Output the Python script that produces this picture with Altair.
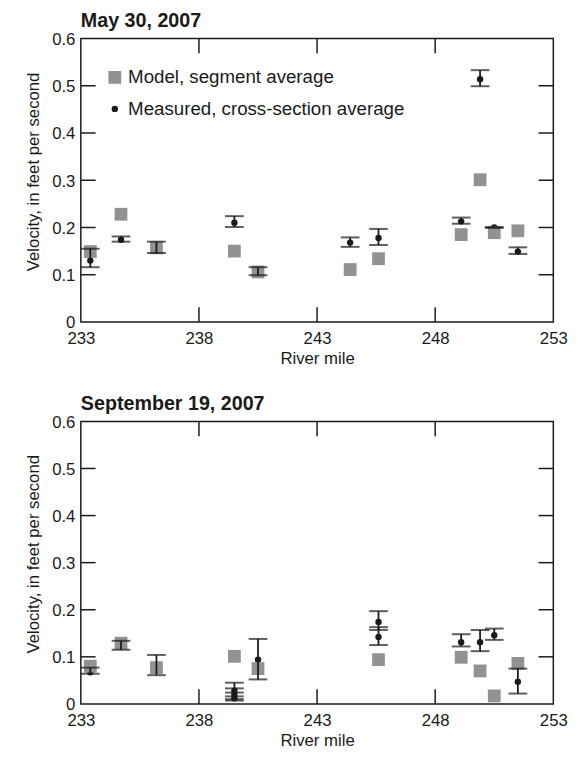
import altair as alt
import pandas as pd

FONT = "Liberation Sans, Arial, sans-serif"

# ---- May 30, 2007 ----
top_model_mile = [233.4, 234.7, 236.2, 239.5, 240.5, 244.4, 245.6, 249.1, 249.9, 250.5, 251.5]
top_model_vel = [0.149, 0.228, 0.157, 0.150, 0.106, 0.111, 0.134, 0.185, 0.301, 0.189, 0.193]
top_meas_mile = [233.4, 234.7, 236.2, 239.5, 240.5, 244.4, 245.6, 249.1, 249.9, 250.5, 251.5]
top_meas_vel = [0.130, 0.174, 0.158, 0.210, 0.107, 0.168, 0.178, 0.213, 0.514, 0.200, 0.149]
top_meas_low = [0.116, 0.170, 0.146, 0.201, 0.099, 0.159, 0.163, 0.208, 0.499, 0.199, 0.144]
top_meas_high = [0.155, 0.181, 0.170, 0.224, 0.116, 0.179, 0.197, 0.221, 0.533, 0.201, 0.158]

# ---- September 19, 2007 ----
bot_model_mile = [233.4, 234.7, 236.2, 239.5, 240.5, 245.6, 249.1, 249.9, 250.5, 251.5]
bot_model_vel = [0.080, 0.129, 0.077, 0.101, 0.075, 0.094, 0.099, 0.070, 0.017, 0.086]
bot_meas_mile = [233.4, 234.7, 236.2, 239.5, 239.5, 239.5, 240.5, 245.6, 245.6, 249.1, 249.9, 250.5, 251.5]
bot_meas_vel = [0.067, 0.125, 0.080, 0.028, 0.020, 0.012, 0.094, 0.174, 0.142, 0.131, 0.131, 0.146, 0.047]
bot_meas_low = [0.064, 0.115, 0.061, 0.016, 0.010, 0.007, 0.052, 0.157, 0.125, 0.122, 0.112, 0.136, 0.022]
bot_meas_high = [0.077, 0.134, 0.104, 0.045, 0.033, 0.024, 0.138, 0.197, 0.163, 0.148, 0.157, 0.160, 0.075]

x_ticks = [233, 238, 243, 248, 253]
y_ticks = [0, 0.1, 0.2, 0.3, 0.4, 0.5, 0.6]
x_inner = [238, 243, 248]
y_inner = [0.1, 0.2, 0.3, 0.4, 0.5]

series_names = ["Model, segment average", "Measured, cross-section average"]
GRAY = "#929292"
BLACK = "#1a1a1a"
W = 480

xscale = alt.Scale(domain=[233, 253], nice=False, zero=False)
yscale = alt.Scale(domain=[0, 0.6], nice=False)


def panel(title, mm, mv, sm, sv, lo, hi, H, legend):
    xax = alt.Axis(values=x_ticks, title="River mile", labelPadding=9, titlePadding=4,
                   labelFlush=False)
    yax = alt.Axis(values=y_ticks, title="Velocity, in feet per second",
                   labelExpr="datum.value == 0 ? '0' : format(datum.value, '.1f')",
                   labelPadding=6, titlePadding=9, labelOffset=1, titleY=H / 2 - 9)
    X = alt.X("mile:Q", scale=xscale, axis=xax)
    Y = alt.Y("v:Q", scale=yscale, axis=yax)

    mdf = pd.DataFrame({"mile": mm, "v": mv, "series": series_names[0]})
    sdf = pd.DataFrame({"mile": sm, "v": sv, "lo": lo, "hi": hi, "series": series_names[1]})
    ydf = pd.DataFrame({"v": y_inner})
    xdf = pd.DataFrame({"mile": x_inner})

    tick_len = 15
    left = alt.Chart(ydf).mark_rule(color=BLACK, strokeWidth=1.5).encode(
        y=Y, x=alt.value(0), x2=alt.value(tick_len))
    right = alt.Chart(ydf).mark_rule(color=BLACK, strokeWidth=1.5).encode(
        y=Y, x=alt.value(W - tick_len), x2=alt.value(W))
    topt = alt.Chart(xdf).mark_rule(color=BLACK, strokeWidth=1.5).encode(
        x=X, y=alt.value(0), y2=alt.value(tick_len))
    bott = alt.Chart(xdf).mark_rule(color=BLACK, strokeWidth=1.5).encode(
        x=X, y=alt.value(H - tick_len), y2=alt.value(H))

    if legend:
        leg = alt.Legend(title=None, orient="none", legendX=25, legendY=30,
                         labelFont=FONT, labelFontSize=19, labelColor=BLACK, labelLimit=0,
                         rowPadding=12, symbolStrokeWidth=0, labelOffset=4)
        color = alt.Color("series:N", scale=alt.Scale(domain=series_names, range=[GRAY, BLACK]), legend=leg)
        shape = alt.Shape("series:N", scale=alt.Scale(domain=series_names, range=["square", "circle"]), legend=leg)
        size = alt.Size("series:N", scale=alt.Scale(domain=series_names, range=[169, 42]), legend=leg)
        circles = alt.Chart(sdf).mark_point(filled=True, opacity=1).encode(
            x=X, y=Y, color=color, shape=shape, size=size)
        squares = alt.Chart(mdf).mark_point(filled=True, opacity=1).encode(
            x=X, y=Y, color=color, shape=shape, size=size)
    else:
        circles = alt.Chart(sdf).mark_point(filled=True, opacity=1, shape="circle",
                                            size=42, color=BLACK).encode(x=X, y=Y)
        squares = alt.Chart(mdf).mark_point(filled=True, opacity=1, shape="square",
                                            size=169, color=GRAY).encode(x=X, y=Y)

    bars = alt.Chart(sdf).mark_rule(color=BLACK, strokeWidth=1.8).encode(
        x=X, y=alt.Y("lo:Q", scale=yscale), y2="hi:Q")
    cap_lo = alt.Chart(sdf).mark_tick(color=BLACK, orient="horizontal", size=19,
                                      thickness=2).encode(x=X, y=alt.Y("lo:Q", scale=yscale))
    cap_hi = alt.Chart(sdf).mark_tick(color=BLACK, orient="horizontal", size=19,
                                      thickness=2).encode(x=X, y=alt.Y("hi:Q", scale=yscale))

    return alt.layer(left, right, topt, bott, circles, squares, bars, cap_lo, cap_hi).properties(
        width=W, height=H,
        title=alt.TitleParams(title, anchor="start", font=FONT, fontSize=20,
                              fontWeight="bold", color=BLACK, offset=0, frame="group"))


top = panel("May 30, 2007", top_model_mile, top_model_vel, top_meas_mile, top_meas_vel,
            top_meas_low, top_meas_high, 288, True)
bot = panel("September 19, 2007", bot_model_mile, bot_model_vel, bot_meas_mile, bot_meas_vel,
            bot_meas_low, bot_meas_high, 287, False)

chart = alt.vconcat(top, bot, spacing=26).properties(
    padding={"left": 16, "top": -4, "right": 5, "bottom": 5}
).configure_view(stroke=BLACK, strokeWidth=1.5).configure_axis(
    grid=False, domain=False, ticks=False,
    labelFont=FONT, labelFontSize=17, labelColor=BLACK,
    titleFont=FONT, titleFontSize=17, titleFontWeight="normal", titleColor=BLACK
)

chart.save("out.html", embed_options={"renderer": "svg", "actions": False})
